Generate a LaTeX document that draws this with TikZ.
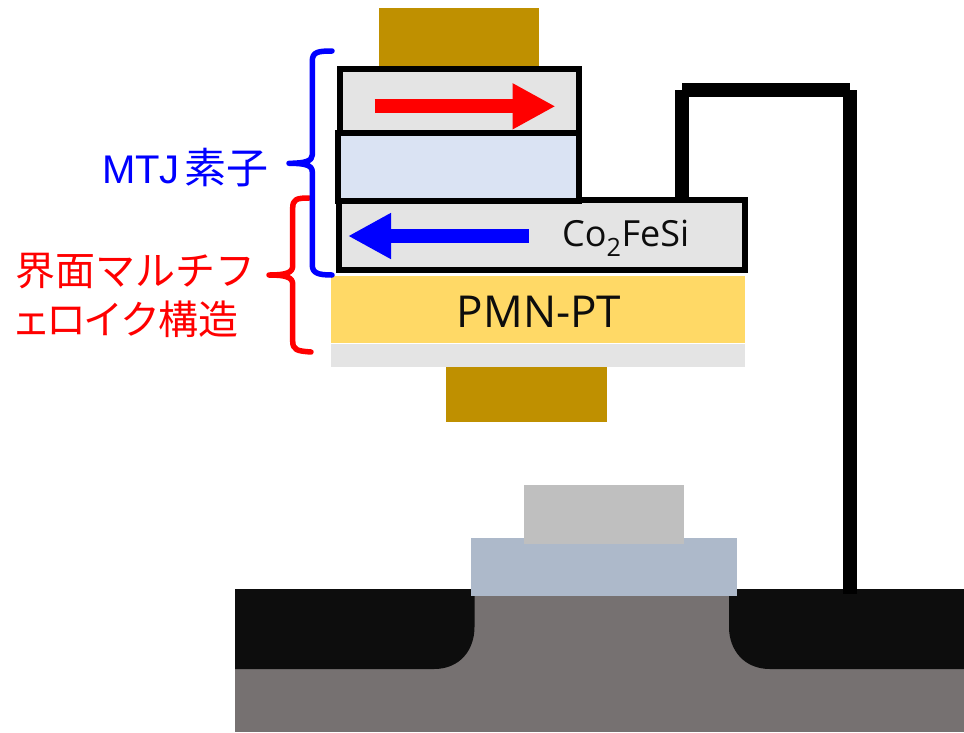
\documentclass[tikz,border=0pt]{standalone}
\usepackage{fontspec}
\setmainfont{Open Sans}
\newfontfamily\cjkfont{Noto Sans CJK JP}
\newfontfamily\latinfont{Liberation Sans}
\usepackage{xcolor}
\usetikzlibrary{positioning, arrows.meta}

\definecolor{goldpad}{HTML}{BF9000}
\definecolor{layergray}{HTML}{E4E4E4}
\definecolor{barrierblue}{HTML}{DAE3F3}
\definecolor{pmnyellow}{HTML}{FFD966}
\definecolor{substrate}{HTML}{767171}
\definecolor{welldark}{HTML}{0D0D0D}
\definecolor{oxideblue}{HTML}{ADB9CA}
\definecolor{gategray}{HTML}{BFBFBF}

\begin{document}
\begin{tikzpicture}[
    x=1pt, y=-1pt,
    layer/.style={draw=black, line width=6pt, fill=#1},
    wire/.style={black, line width=14pt},
    magarrow/.style={-{Triangle[length=43pt, width=43pt]}, #1, line width=14pt},
    bracket/.style={#1, line width=5.5pt, line cap=round, line join=round},
    label/.style={font=\fontsize{40}{48}\selectfont, inner sep=0pt}
]
\useasboundingbox (0,0) rectangle (964,732);

% Transistor
\fill[substrate] (235,589) rectangle (964,732);
\fill[welldark] (235,589) -- (474.5,589) -- (474.5,627) .. controls (474.5,650) and (460,669) .. (434,669) -- (235,669) -- cycle;
\fill[welldark] (729,589) -- (964,589) -- (964,669) -- (770,669) .. controls (744,669) and (729,650) .. (729,627) -- cycle;
\fill[oxideblue] (471,538) rectangle (737,595.5);
\fill[gategray] (524,485) rectangle (684,544);

% Electrodes and substrate layers
\fill[goldpad] (378.5,8) rectangle (538.5,68);
\fill[goldpad] (446,365) rectangle (607,422);
\fill[pmnyellow] (331,276) rectangle (745,342.5);
\fill[layergray] (331,344) rectangle (745,366.5);

% Stack
\draw[layer=layergray] (339,200) rectangle (745,270);
\draw[layer=layergray] (340,69) rectangle (578.5,133);
\draw[layer=barrierblue] (338,133) rectangle (578.5,201);

% Wire
\coordinate (wirefoot) at (682,197);
\coordinate (wireleft) at (682,90.3);
\coordinate (wireright) at (849.7,90.3);
\coordinate (wireend) at (849.7,594);
\draw[wire] (wirefoot) -- (wireleft);
\draw[wire] (wireleft) -- (wireright);
\draw[wire] (wireright) -- (wireend);

% Magnetization
\coordinate (redtail) at (374.5,106.3);
\coordinate (redtip) at (555.5,106.3);
\coordinate (bluetail) at (528.5,236);
\coordinate (bluetip) at (348,236);
\draw[magarrow=red] (redtail) -- (redtip);
\draw[magarrow=blue] (bluetail) -- (bluetip);

% Brackets
\draw[bracket=red] (309,198) .. controls (297,198) and (292.7,199) .. (292.7,208) -- (292.7,266) .. controls (292.7,273) and (285,275) .. (269,275) .. controls (285,275) and (292.7,277) .. (292.7,284) -- (292.7,341) .. controls (292.7,350) and (297,351) .. (311,352);
\draw[bracket=blue] (332,51) .. controls (318,51) and (312.3,52) .. (312.3,61) -- (312.3,155) .. controls (312.3,161) and (305,163.3) .. (289,163.3) .. controls (305,163.3) and (312.3,165) .. (312.3,172) -- (312.3,265) .. controls (312.3,273) and (318,275) .. (332,275);

% Labels
\node[label, text=blue, anchor=west] (mtjlabel) at (102,168) {\latinfont MTJ\kern5pt\cjkfont\fontsize{42}{48}\selectfont 素子};
\node[label, text=red, anchor=west, align=left] (mflabel) at (15,295) {\cjkfont 界面マルチフ\\[1pt]\cjkfont\kern-4pt ェ\kern-5pt ロ\kern-3pt イ\kern-3pt ク\kern-2pt 構造};
\node[font=\fontsize{36}{40}\selectfont, inner sep=0pt, text=welldark, anchor=west] (cfslabel) at (562,238) {Co\textsubscript{2}FeSi};
\node[font=\fontsize{44}{48}\selectfont, inner sep=0pt, text=welldark] (pmnlabel) at (539,312) {PMN-PT};

\end{tikzpicture}
\end{document}
